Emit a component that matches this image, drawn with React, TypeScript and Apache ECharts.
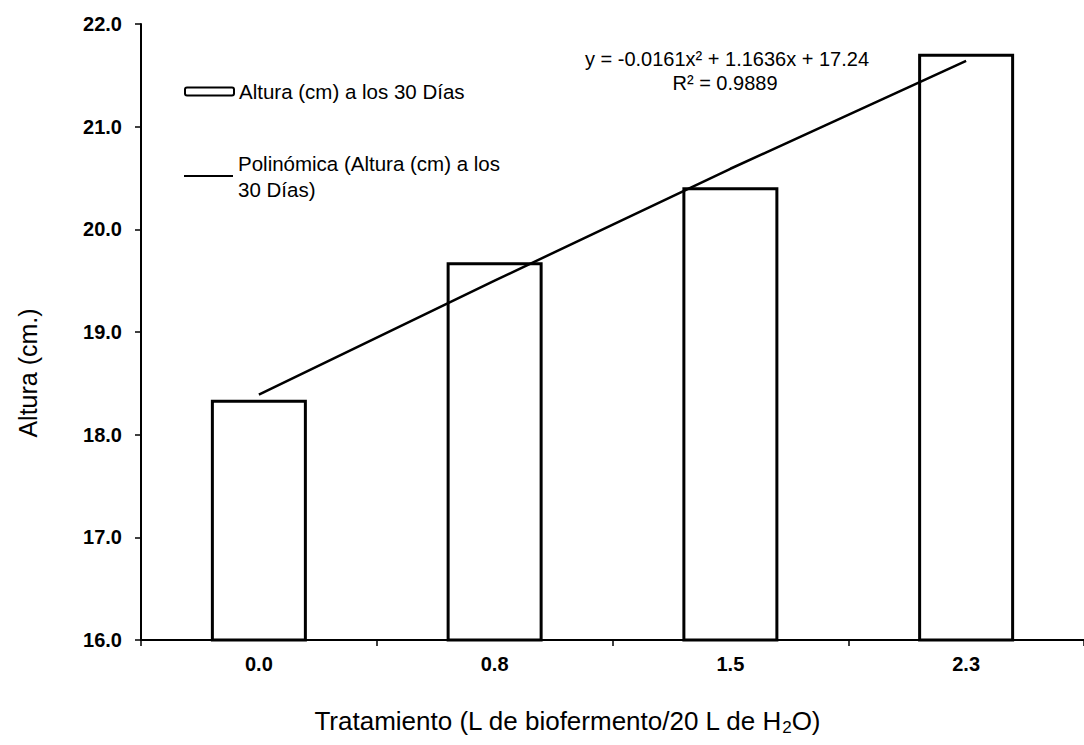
import React, { useEffect, useRef } from "react";
import * as echarts from "echarts";

const categories = ["0.0", "0.8", "1.5", "2.3"];
const alturaValues = [18.34, 19.68, 20.41, 21.71];
const trendValues = [18.39, 19.5, 20.59, 21.64];
const yMin = 16;
const yMax = 22;
const yInterval = 1;
const barName = "Altura (cm) a los 30 Días";
const trendName = "Polinómica (Altura (cm) a los\n30 Días)";
const equationText = "y = -0.0161x² + 1.1636x + 17.24";
const r2Text = "R² = 0.9889";

const FONT = "'Liberation Sans', Arial, sans-serif";

export default function App() {
  const ref = useRef<HTMLDivElement>(null);
  useEffect(() => {
    if (!ref.current) return;
    const chart = echarts.init(ref.current, undefined, { renderer: "svg" });
    chart.setOption({
      animation: false,
      backgroundColor: "#fff",
      textStyle: { fontFamily: FONT, color: "#000" },
      grid: { left: 141, top: 24, width: 950, height: 616, containLabel: false },
      legend: [
        {
          data: [barName],
          left: 184,
          top: 81,
          orient: "vertical",
          padding: 0,
          itemWidth: 49,
          itemHeight: 8,
          textStyle: { fontFamily: FONT, fontSize: 20.5, color: "#000" },
          selectedMode: false,
        },
        {
          data: [{ name: trendName, icon: "rect" }],
          left: 184,
          top: 137,
          orient: "vertical",
          padding: 0,
          itemWidth: 49,
          itemHeight: 2,
          itemStyle: { color: "#000", borderWidth: 0 },
          lineStyle: { width: 0 },
          textStyle: {
            fontFamily: FONT,
            fontSize: 20.5,
            color: "#000",
            lineHeight: 26,
            padding: [26, 0, 0, 0],
          },
          selectedMode: false,
        },
      ],
      xAxis: {
        type: "category",
        data: categories,
        boundaryGap: true,
        axisLine: { show: true, lineStyle: { color: "#000", width: 2 } },
        axisTick: { show: true, length: 6, lineStyle: { color: "#000", width: 1.5 } },
        axisLabel: {
          color: "#000",
          fontFamily: FONT,
          fontSize: 20,
          fontWeight: "bold",
          margin: 14,
        },
        splitLine: { show: false },
      },
      yAxis: {
        type: "value",
        min: yMin,
        max: yMax,
        interval: yInterval,
        axisLine: { show: true, lineStyle: { color: "#000", width: 2 } },
        axisTick: { show: true, length: 6, lineStyle: { color: "#000", width: 1.5 } },
        axisLabel: {
          color: "#000",
          fontFamily: FONT,
          fontSize: 20,
          fontWeight: "bold",
          margin: 19,
          formatter: (v: number) => v.toFixed(1),
        },
        splitLine: { show: false },
      },
      series: [
        {
          name: barName,
          type: "bar",
          data: alturaValues,
          barWidth: 96,
          itemStyle: { color: "#fff", borderColor: "#000", borderWidth: 3 },
        },
        {
          name: trendName,
          type: "line",
          data: trendValues,
          symbol: "none",
          smooth: false,
          lineStyle: { color: "#000", width: 2.5 },
          itemStyle: { color: "#000" },
          z: 5,
        },
      ],
      graphic: [
        {
          type: "text",
          x: 28,
          y: 373,
          rotation: Math.PI / 2,
          style: {
            text: "Altura (cm.)",
            font: `25px ${FONT}`,
            fill: "#000",
            align: "center",
            verticalAlign: "middle",
          },
        },
        {
          type: "text",
          x: 567,
          y: 721,
          style: {
            text: "Tratamiento (L de biofermento/20 L de H{sub|2}O)",
            fontFamily: FONT,
            fontSize: 26,
            fill: "#000",
            align: "center",
            verticalAlign: "middle",
            lineHeight: 30,
            rich: {
              sub: {
                fontFamily: FONT,
                fontSize: 17,
                fill: "#000",
                verticalAlign: "bottom",
                lineHeight: 30,
              },
            },
          },
        },
        {
          type: "text",
          x: 727,
          y: 59,
          style: {
            text: equationText,
            font: `20px ${FONT}`,
            fill: "#000",
            align: "center",
            verticalAlign: "middle",
          },
        },
        {
          type: "text",
          x: 725,
          y: 83,
          style: {
            text: r2Text,
            font: `20px ${FONT}`,
            fill: "#000",
            align: "center",
            verticalAlign: "middle",
          },
        },
      ],
    });
    return () => chart.dispose();
  }, []);
  return (
    <div
      ref={ref}
      style={{ position: "absolute", left: 0, top: 0, width: 1084, height: 745 }}
    />
  );
}
